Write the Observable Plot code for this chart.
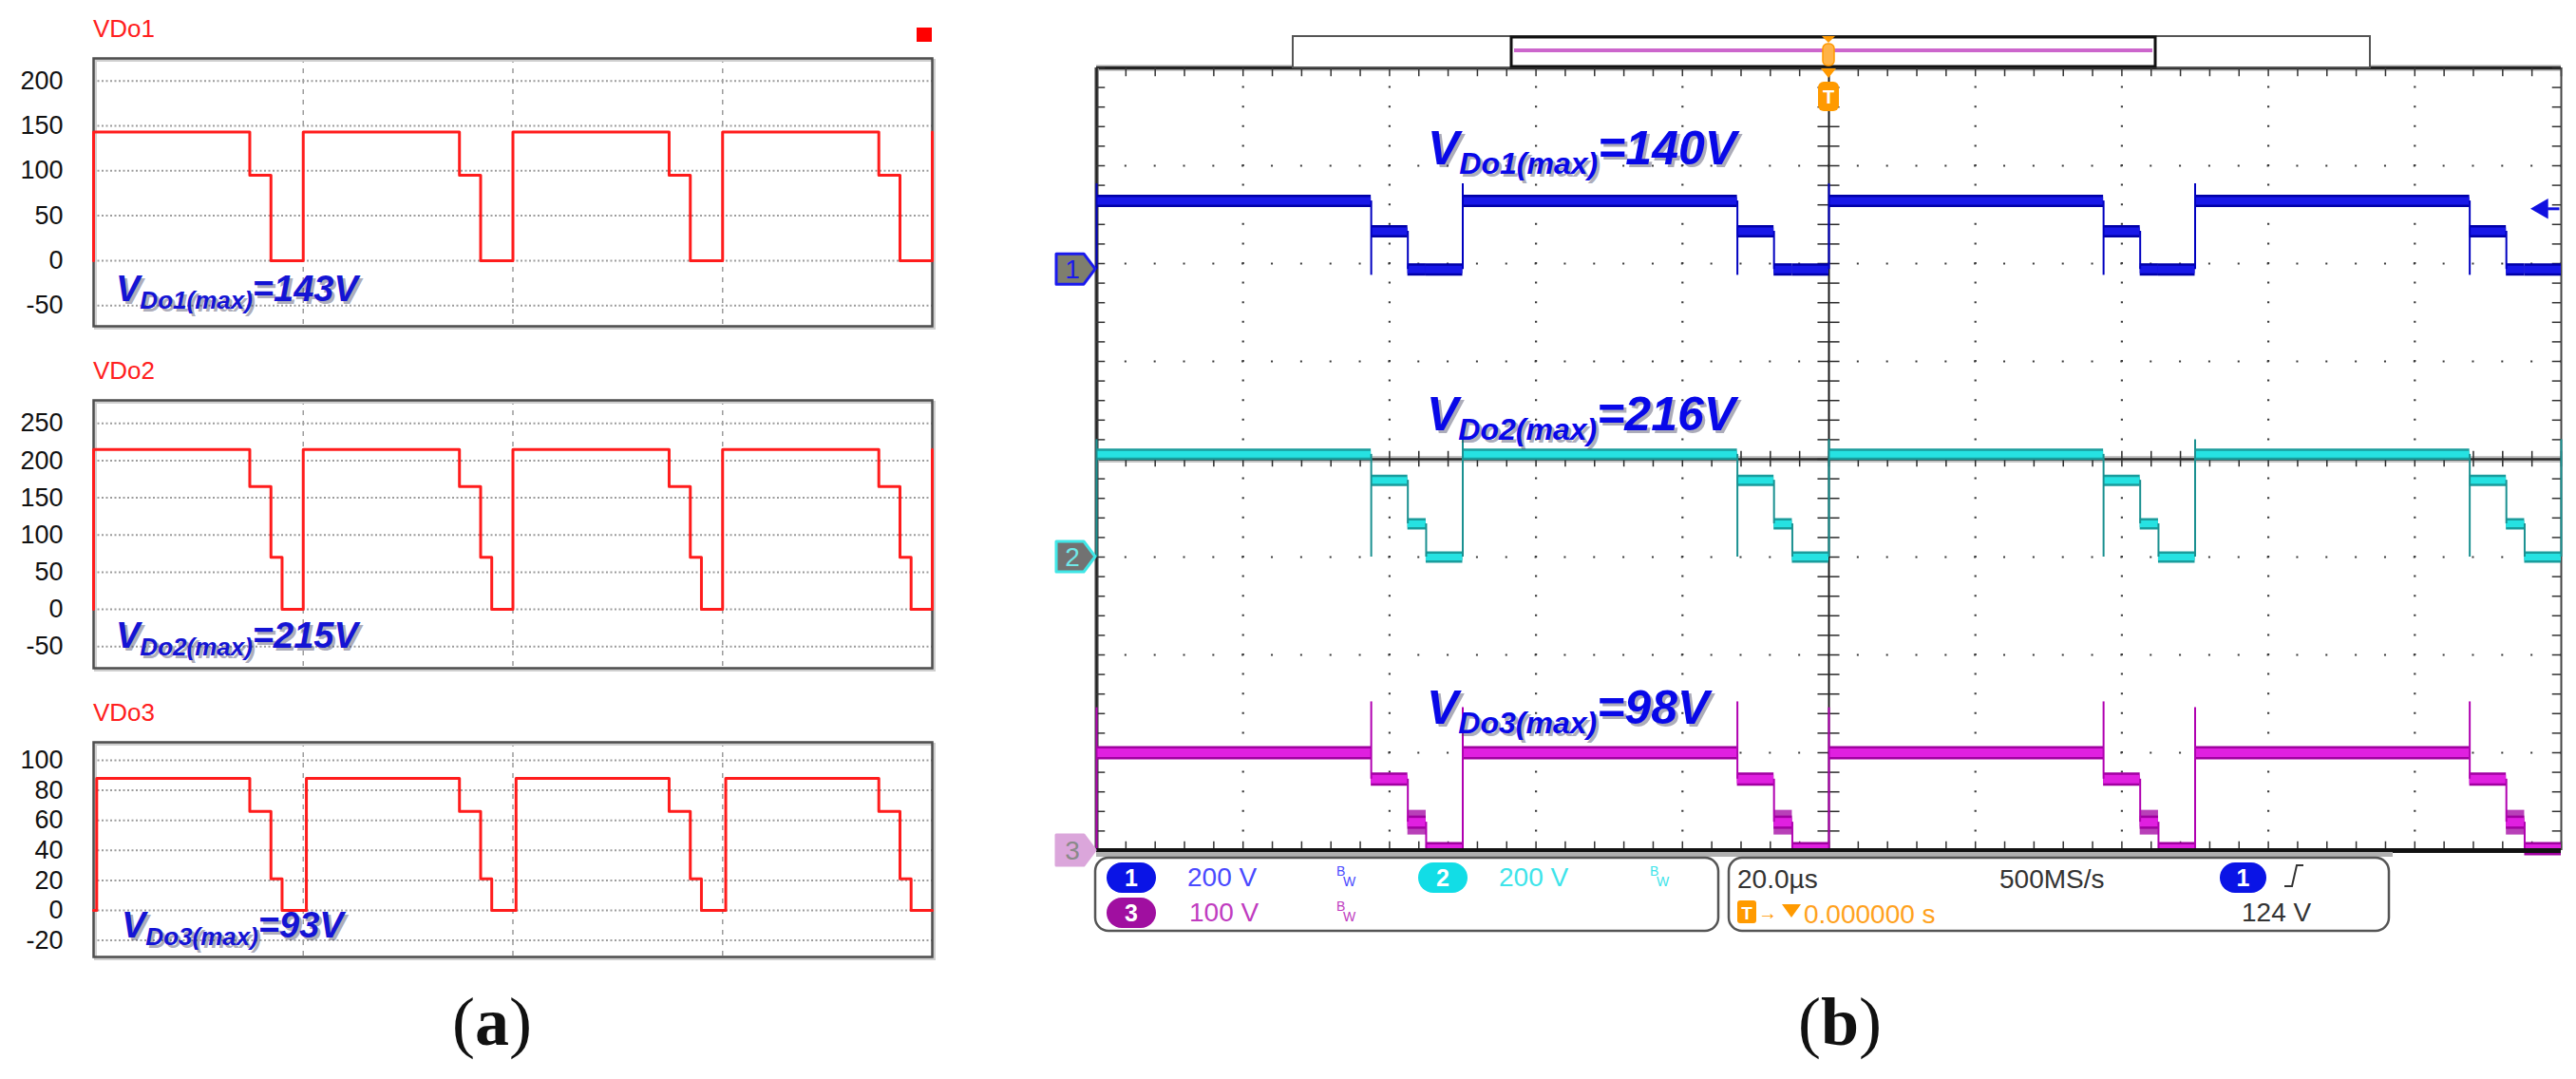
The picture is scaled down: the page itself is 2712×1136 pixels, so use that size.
<!DOCTYPE html>
<html><head><meta charset="utf-8">
<script src="https://cdn.jsdelivr.net/npm/d3@7"></script>
<script src="https://cdn.jsdelivr.net/npm/@observablehq/plot@0.6"></script>
<style>
body{margin:0;background:#fff;}
#root{position:relative;width:2712px;height:1136px;overflow:hidden;background:#fff;font-family:"Liberation Sans",Arial,sans-serif;}
#root > svg{position:absolute;overflow:visible;}
</style></head><body><div id="root"></div>
<script>
// ---------- (a) simulation data (time in switching periods) ----------
const simTitles = ["VDo1", "VDo2", "VDo3"];
const simMaxLabels = ["=143V", "=215V", "=93V"];
const vdo1Time  = [0, 0, 0.745, 0.846, 1, 1.745, 1.846, 2, 2.745, 2.846, 3, 3.745, 3.846, 4];
const vdo1Value = [0, 143, 95, 0, 143, 95, 0, 143, 95, 0, 143, 95, 0, 143];
const vdo2Time  = [0, 0, 0.745, 0.846, 0.899, 1, 1.745, 1.846, 1.899, 2, 2.745, 2.846, 2.899, 3, 3.745, 3.846, 3.899, 4];
const vdo2Value = [0, 215, 165, 70, 0, 215, 165, 70, 0, 215, 165, 70, 0, 215, 165, 70, 0, 215];
const vdo3Time  = [0, 0.015, 0.745, 0.846, 0.899, 1.015, 1.745, 1.846, 1.899, 2.015, 2.745, 2.846, 2.899, 3.015, 3.745, 3.846, 3.899, 4];
const vdo3Value = [0, 88, 66, 21, 0, 88, 66, 21, 0, 88, 66, 21, 0, 88, 66, 21, 0, 0];
const vdo1Ticks = [-50, 0, 50, 100, 150, 200];
const vdo2Ticks = [-50, 0, 50, 100, 150, 200, 250];
const vdo3Ticks = [-20, 0, 20, 40, 60, 80, 100];
const simGridX = [1, 2, 3];

// ---------- (b) oscilloscope data (time in µs, 20 µs/div) ----------
const scopeGridX = [-80, -60, -40, -20, 20, 40, 60, 80];
const scopeGridY = [-3, -2, -1, 1, 2, 3];
const riseTimes = [-100, -50, 0, 50, 100];
const fallTimes = [-62.5, -12.5, 37.5, 87.5];
const step1EndTimes = [-57.5, -7.5, 42.5, 92.5];
const step2EndTimes = [-55, -5, 45, 95];
const ch1Levels = [140, 78, 0, 0];   // high, step1, step2, low (V)
const ch2Levels = [210, 157, 68, 0];
const ch3Levels = [100, 73, 29, 2];
const ch1Spikes = [175, -12];        // at rise, at fall (V)
const ch2Spikes = [240, 0];
const ch3Spikes = [146, 152];
const voltsPerDiv = [200, 200, 100];
const offsetDiv = [1.94, -1, -4];
const triggerLevel = 124;
const scopeMaxLabels = ["=140V", "=216V", "=98V"];

const root = document.getElementById("root");
const FONT = '"Liberation Sans", Arial, sans-serif';

function simPlot(time, value, ticks, domain, height, top) {
  const data = time.map((t, i) => ({t, v: value[i]}));
  const p = Plot.plot({
    width: 1000, height, marginLeft: 98, marginRight: 19, marginTop: 61, marginBottom: 7,
    style: {fontFamily: FONT, fontSize: "27px", color: "#111", background: "transparent", overflow: "visible"},
    x: {domain: [0, 4], axis: null},
    y: {domain, ticks, tickSize: 0, tickPadding: 32, label: null, tickFormat: d => String(d)},
    marks: [
      Plot.ruleY(ticks, {stroke: "#9c9c9c", strokeWidth: 2, strokeDasharray: "2,2.5"}),
      Plot.ruleX(simGridX, {stroke: "#9c9c9c", strokeWidth: 1.5, strokeDasharray: "5,6"}),
      Plot.frame({stroke: "#cfcfcf", strokeWidth: 3, dx: 2, dy: 2}),
      Plot.frame({stroke: "#4e4e4e", strokeWidth: 2.5}),
      Plot.line(data, {x: "t", y: "v", curve: "step-after", stroke: "#ff1c1c", strokeWidth: 3})
    ]
  });
  p.style.left = "0px"; p.style.top = top + "px";
  return p;
}
const sp1 = simPlot(vdo1Time, vdo1Value, vdo1Ticks, [-73, 225], 350, 0);
const sp2 = simPlot(vdo2Time, vdo2Value, vdo2Ticks, [-79, 281], 350, 360);
const sp3 = simPlot(vdo3Time, vdo3Value, vdo3Ticks, [-31, 112], 294, 720);

function buildChannel(levels, spikes, vpd, off, edgeAtEnd) {
  const toDiv = v => off + v / vpd;
  const [high, s1, s2, low] = levels;
  const bands = [], edges = [];
  for (let k = 0; k < fallTimes.length; k++) {
    bands.push({x1: riseTimes[k], x2: fallTimes[k], y: toDiv(high), kind: "high"});
    bands.push({x1: fallTimes[k], x2: step1EndTimes[k], y: toDiv(s1), kind: "s1"});
    bands.push({x1: step1EndTimes[k], x2: step2EndTimes[k], y: toDiv(s2), kind: "s2"});
    bands.push({x1: step2EndTimes[k], x2: riseTimes[k + 1], y: toDiv(low), kind: "low"});
    edges.push({x: fallTimes[k], y1: toDiv(Math.min(s1, spikes[1])), y2: toDiv(Math.max(high, spikes[1]))});
    edges.push({x: step1EndTimes[k], y1: toDiv(s2), y2: toDiv(s1)});
    edges.push({x: step2EndTimes[k], y1: toDiv(low), y2: toDiv(s2)});
  }
  const rises = edgeAtEnd ? riseTimes : riseTimes.slice(0, -1);
  rises.forEach(t => edges.push({x: t, y1: toDiv(low), y2: toDiv(Math.max(high, spikes[0]))}));
  return {bands, edges};
}
const ch1 = buildChannel(ch1Levels, ch1Spikes, voltsPerDiv[0], offsetDiv[0], false);
const ch2 = buildChannel(ch2Levels, ch2Spikes, voltsPerDiv[1], offsetDiv[1], true);
const ch3 = buildChannel(ch3Levels, ch3Spikes, voltsPerDiv[2], offsetDiv[2], false);

function channelMarks(ch, outer, inner, edgeColor, w, extraS2) {
  const m = [];
  if (extraS2) m.push(Plot.ruleY(ch.bands.filter(d => d.kind === "s2"), {y: "y", x1: "x1", x2: "x2", stroke: outer, strokeWidth: extraS2, strokeOpacity: 0.75}));
  m.push(Plot.ruleY(ch.bands, {y: "y", x1: "x1", x2: "x2", stroke: outer, strokeWidth: w}));
  m.push(Plot.ruleY(ch.bands, {y: "y", x1: "x1", x2: "x2", stroke: inner, strokeWidth: w - 5}));
  m.push(Plot.ruleX(ch.edges, {x: "x", y1: "y1", y2: "y2", stroke: edgeColor, strokeWidth: 2}));
  return m;
}

const SW = 1612, SH = 900, SML = 54, SMR = 16, SMT = 71, SMB = 5;
const pxMinorX = (SW - SML - SMR) / 50, pxMinorY = (SH - SMT - SMB) / 40;
const minorX = d3.range(-100, 100.001, 4);
const minorY = d3.range(-4, 4.001, 0.2);
const scope = Plot.plot({
  width: SW, height: SH, marginLeft: SML, marginRight: SMR, marginTop: SMT, marginBottom: SMB,
  style: {fontFamily: FONT, background: "transparent", overflow: "visible"},
  x: {domain: [-100, 100], axis: null},
  y: {domain: [-4, 4], axis: null},
  marks: [
    Plot.ruleX(scopeGridX, {stroke: "#3a3a3a", strokeWidth: 2.2, strokeDasharray: `2,${pxMinorY - 2}`, strokeDashoffset: 1}),
    Plot.ruleY(scopeGridY, {stroke: "#3a3a3a", strokeWidth: 2.2, strokeDasharray: `2,${pxMinorX - 2}`, strokeDashoffset: 1}),
    Plot.ruleY([0], {stroke: "#c4c4c4", strokeWidth: 7}),
    Plot.ruleY([0], {stroke: "#2a2a2a", strokeWidth: 2.5}),
    Plot.ruleX([0], {stroke: "#1a1a1a", strokeWidth: 2}),
    Plot.ruleX(minorX, {y1: -0.08, y2: 0.08, stroke: "#2a2a2a", strokeWidth: 1.5}),
    Plot.ruleY(minorY, {x1: -1.5, x2: 1.5, stroke: "#2a2a2a", strokeWidth: 1.5}),
    Plot.ruleY([4], {stroke: "#a0a0a0", strokeWidth: 6}),
    Plot.ruleY([4], {stroke: "#222", strokeWidth: 3}),
    Plot.ruleX(minorX, {y1: 3.91, y2: 4, stroke: "#333", strokeWidth: 1.5}),
    Plot.ruleX(minorX, {y1: -4, y2: -3.91, stroke: "#333", strokeWidth: 1.5}),
    Plot.ruleX([-100], {stroke: "#9a9a9a", strokeWidth: 5}),
    Plot.ruleX([-100], {stroke: "#222", strokeWidth: 2.5}),
    Plot.ruleX([100], {stroke: "#444", strokeWidth: 2}),
    Plot.ruleY(minorY, {x1: -100, x2: -98.8, stroke: "#333", strokeWidth: 1.5}),
    Plot.ruleY(minorY, {x1: 98.8, x2: 100, stroke: "#333", strokeWidth: 1.5}),
    ...channelMarks(ch1, "#0000a8", "#1818e8", "#0000c0", 13, 0),
    ...channelMarks(ch2, "#1a9c9c", "#26e2e2", "#1a9090", 12, 0),
    ...channelMarks(ch3, "#a000a0", "#e020e0", "#b000b0", 14, 26),
    Plot.ruleY([-4], {stroke: "#111", strokeWidth: 5}),
    Plot.ruleY([triggerLevel], {y: d => offsetDiv[0] + d / voltsPerDiv[0], x1: 98.2, x2: 99.8, stroke: "#1010e0", strokeWidth: 3}),
    Plot.dot([triggerLevel], {x: () => 97.4, y: d => offsetDiv[0] + d / voltsPerDiv[0], symbol: "triangle", rotate: -90, r: 8, fill: "#1010e0"})
  ]
});
scope.style.left = "1100px"; scope.style.top = "0px";
root.append(sp1, sp2, sp3, scope);

// ---------- overlay: titles, annotations, scope chrome ----------
const sx = t => 1100 + scope.scale("x").apply(t);
const sy = v => scope.scale("y").apply(v);
function annot(x, y, sub, rest, big, small, dy, color) {
  const t = (dx, ddy, fill) => `<text x="${x + dx}" y="${y + ddy}" font-style="italic" font-weight="bold" fill="${fill}"><tspan font-size="${big}">V</tspan><tspan font-size="${small}" dy="${dy}">${sub}</tspan><tspan font-size="${big}" dy="${-dy}">${rest}</tspan></text>`;
  return t(3, 3, "rgba(70,70,100,0.45)") + t(0, 0, color);
}
let o = `<svg width="2712" height="1136" style="position:absolute;left:0;top:0;pointer-events:none" xmlns="http://www.w3.org/2000/svg" font-family='${FONT}'>`;
[39, 399, 759].forEach((y, i) => { o += `<text x="98" y="${y}" font-size="26" fill="#ff2020">${simTitles[i]}</text>`; });
o += `<rect x="965" y="29" width="16" height="15" fill="#ff0000"/>`;
o += annot(122, 317, "Do1(max)", simMaxLabels[0], 38, 26, 8, "#1414d4");
o += annot(122, 682, "Do2(max)", simMaxLabels[1], 38, 26, 8, "#1414d4");
o += annot(128, 987, "Do3(max)", simMaxLabels[2], 38, 26, 8, "#1414d4");
o += annot(1503, 173, "Do1(max)", scopeMaxLabels[0], 50, 32, 10, "#0808e8");
o += annot(1502, 453, "Do2(max)", scopeMaxLabels[1], 50, 32, 10, "#0808e8");
o += annot(1502, 762, "Do3(max)", scopeMaxLabels[2], 50, 32, 10, "#0808e8");

// record bar at top
o += `<rect x="1361" y="38" width="1134" height="33" fill="#fff" stroke="#555" stroke-width="2"/>`;
o += `<rect x="1591" y="39" width="678" height="31" fill="#fff" stroke="#111" stroke-width="3"/>`;
o += `<line x1="1594" x2="2266" y1="53" y2="53" stroke="#cc66cc" stroke-width="4"/>`;
const tx = sx(0);
o += `<path d="M${tx - 7},38 L${tx + 7},38 L${tx},45 Z" fill="#ff9900"/>`;
o += `<rect x="${tx - 6}" y="46" width="12" height="23" rx="5" fill="#ffb347" stroke="#ff9900" stroke-width="1.5"/>`;
o += `<path d="M${tx - 8},72 L${tx + 8},72 L${tx},82 Z" fill="#ff9900"/>`;
o += `<rect x="${tx - 11}" y="86" width="22" height="31" rx="6" fill="#ff9a00"/>`;
o += `<text x="${tx}" y="109" font-size="20" font-weight="bold" fill="#fff" text-anchor="middle">T</text>`;

// channel tags on the left
const tags = [
  {n: "1", y: sy(offsetDiv[0]), fill: "#7e7e6e", stroke: "#1a1aee", txt: "#1a1aee"},
  {n: "2", y: sy(offsetDiv[1]), fill: "#727272", stroke: "#40e6e6", txt: "#70e8e8"},
  {n: "3", y: sy(offsetDiv[2]), fill: "#dba6db", stroke: "#dba6db", txt: "#8a8a8a"}
];
tags.forEach(t => {
  o += `<path d="M1112,${t.y - 16} L1141,${t.y - 16} L1153,${t.y} L1141,${t.y + 16} L1112,${t.y + 16} Z" fill="${t.fill}" stroke="${t.stroke}" stroke-width="3" stroke-linejoin="round"/>`;
  o += `<text x="1129" y="${t.y + 10}" font-size="28" fill="${t.txt}" text-anchor="middle">${t.n}</text>`;
});

// bottom status boxes
o += `<rect x="1154" y="897" width="1365" height="5" fill="#b0b0b0"/>`;
o += `<rect x="1153" y="903" width="656" height="77" rx="14" fill="#fff" stroke="#555" stroke-width="2.5"/>`;
o += `<rect x="1820" y="903" width="695" height="77" rx="14" fill="#fff" stroke="#555" stroke-width="2.5"/>`;
const oval = (x, y, w, fill, n) => `<rect x="${x}" y="${y}" width="${w}" height="32" rx="16" fill="${fill}"/><text x="${x + w / 2}" y="${y + 25}" font-size="25" font-weight="bold" fill="#fff" text-anchor="middle">${n}</text>`;
const bw = (x, y, fill) => `<text x="${x}" y="${y - 11}" font-size="14" fill="${fill}">B</text><text x="${x + 7}" y="${y}" font-size="14" fill="${fill}">W</text>`;
o += oval(1165, 908, 52, "#0a14e6", "1");
o += `<text x="1250" y="933" font-size="28" fill="#4a4aff">200 V</text>` + bw(1407, 933, "#4a4aff");
o += oval(1493, 908, 52, "#12dde6", "2");
o += `<text x="1578" y="933" font-size="28" fill="#3ee4ea">200 V</text>` + bw(1737, 933, "#3ee4ea");
o += oval(1165, 945, 52, "#a00fa0", "3");
o += `<text x="1252" y="970" font-size="28" fill="#c03cc0">100 V</text>` + bw(1407, 970, "#c03cc0");
o += `<text x="1829" y="935" font-size="28" fill="#333">20.0µs</text>`;
o += `<text x="2105" y="935" font-size="28" fill="#333">500MS/s</text>`;
o += oval(2337, 908, 49, "#0a14e6", "1");
o += `<path d="M2405,933 L2413,933 L2418,911 L2425,911" fill="none" stroke="#333" stroke-width="2"/>`;
o += `<rect x="1829" y="948" width="20" height="24" rx="3" fill="#ff9a00"/><text x="1839" y="968" font-size="19" font-weight="bold" fill="#fff" text-anchor="middle">T</text>`;
o += `<text x="1851" y="968" font-size="20" fill="#ff9a00">→</text>`;
o += `<path d="M1876,952 L1896,952 L1886,966 Z" fill="#ff9a00"/>`;
o += `<text x="1899" y="972" font-size="28" fill="#ffa21e">0.000000 s</text>`;
o += `<text x="2360" y="970" font-size="28" fill="#333">124 V</text>`;

// captions
o += `<text x="518" y="1100" font-family="Liberation Serif, Times New Roman, serif" font-size="72" text-anchor="middle" fill="#111">(<tspan font-weight="bold">a</tspan>)</text>`;
o += `<text x="1937" y="1100" font-family="Liberation Serif, Times New Roman, serif" font-size="72" text-anchor="middle" fill="#111">(<tspan font-weight="bold">b</tspan>)</text>`;
o += `</svg>`;
root.insertAdjacentHTML("beforeend", o);
</script>
</body></html>
